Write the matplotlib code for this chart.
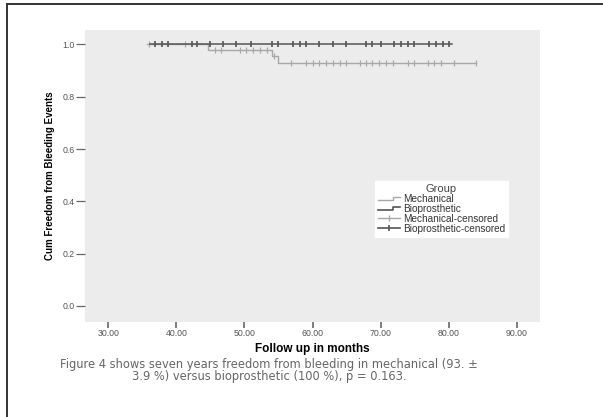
import numpy as np
import matplotlib
matplotlib.use("Agg")
import matplotlib.pyplot as plt
from matplotlib.lines import Line2D
from matplotlib.legend_handler import HandlerBase

# ---- data ----
mech_times = [35.7, 44.6, 54.0, 54.9, 84.0]
mech_surv = [1.0, 0.98, 0.955, 0.93, 0.93]
bio_times = [36.1, 80.5]
bio_surv = [1.0, 1.0]

mech_censored = [36.0, 41.3, 45.7, 46.6, 49.3, 50.3, 51.3, 52.3, 53.3, 54.3,
                 56.9, 59.1, 60.1, 61.0, 62.0, 63.0, 64.0, 64.9, 66.9, 67.9,
                 68.8, 69.8, 70.8, 71.8, 74.0, 74.9, 76.9, 77.9, 78.9, 80.8, 84.0]
bio_censored = [36.9, 37.9, 38.8, 42.3, 43.0, 44.9, 46.9, 48.8, 51.0, 54.0,
                54.9, 57.1, 58.1, 59.1, 61.0, 63.0, 64.9, 67.9, 68.8, 70.1,
                72.0, 73.0, 74.0, 74.9, 77.1, 78.1, 79.1, 80.1]

x_ticks = [30, 40, 50, 60, 70, 80, 90]
x_ticklabels = ["30.00", "40.00", "50.00", "60.00", "70.00", "80.00", "90.00"]
y_ticks = [0.0, 0.2, 0.4, 0.6, 0.8, 1.0]
y_ticklabels = ["0.0", "0.2", "0.4", "0.6", "0.8", "1.0"]

group_labels = ["Mechanical", "Bioprosthetic", "Mechanical-censored", "Bioprosthetic-censored"]
caption = ("Figure 4 shows seven years freedom from bleeding in mechanical (93. \u00b1\n"
           "3.9 %) versus bioprosthetic (100 %), p = 0.163.")

MECH_C = "#a8a8a8"
BIO_C = "#555555"


def surv_at(times, surv, t):
    idx = np.searchsorted(np.asarray(times), t, side="right") - 1
    idx = np.clip(idx, 0, len(surv) - 1)
    return np.asarray(surv)[idx]


plt.rcParams["font.family"] = ["Liberation Sans", "DejaVu Sans"]

fig = plt.figure(figsize=(6.03, 4.17), dpi=100)
ax = fig.add_axes([0.141, 0.228, 0.7546, 0.700])
ax.set_facecolor("#ececec")
for s in ax.spines.values():
    s.set_visible(False)

ax.set_xlim(26.6, 93.4)
ax.set_ylim(-0.061, 1.055)

# curves
ax.step(mech_times, mech_surv, where="post", color=MECH_C, lw=1.0, zorder=2)
ax.step(bio_times, bio_surv, where="post", color=BIO_C, lw=1.1, zorder=3)
ax.plot(mech_censored, surv_at(mech_times, mech_surv, mech_censored), ls="none",
        marker="|", ms=4.5, mew=0.9, color=MECH_C, zorder=2)
ax.plot(bio_censored, surv_at(bio_times, bio_surv, bio_censored), ls="none",
        marker="|", ms=4.5, mew=1.2, color=BIO_C, zorder=4)

ax.set_xticks(x_ticks)
ax.set_xticklabels(x_ticklabels)
ax.set_yticks(y_ticks)
ax.set_yticklabels(y_ticklabels)
ax.tick_params(axis="x", direction="out", length=4, width=1.2, color="#666666",
               labelsize=6.3, labelcolor="#555555", pad=1)
ax.tick_params(axis="y", direction="out", length=6.5, width=0.9, color="#666666",
               labelsize=6.3, labelcolor="#555555", pad=1)

ax.set_xlabel("Follow up in months", fontsize=8.5, fontweight="bold", labelpad=4)
ax.set_ylabel("Cum Freedom from Bleeding Events", fontsize=7, fontweight="bold",
              labelpad=5)


class StepHandler(HandlerBase):
    def __init__(self, color, lw):
        super().__init__()
        self.color = color
        self.lw = lw

    def create_artists(self, legend, orig_handle, xdescent, ydescent, width,
                       height, fontsize, trans):
        x0, x1 = -xdescent, -xdescent + width
        ylo = -ydescent + height * 0.3
        yhi = -ydescent + height * 0.7
        xm = x0 + 0.7 * width
        ln = Line2D([x0, xm, xm, x1], [ylo, ylo, yhi, yhi], color=self.color,
                    lw=self.lw, transform=trans)
        return [ln]


class CensorHandler(HandlerBase):
    def __init__(self, color, lw):
        super().__init__()
        self.color = color
        self.lw = lw

    def create_artists(self, legend, orig_handle, xdescent, ydescent, width,
                       height, fontsize, trans):
        x0, x1 = -xdescent, -xdescent + width
        ym = -ydescent + height * 0.5
        ln = Line2D([x0, x1], [ym, ym], color=self.color, lw=self.lw, transform=trans)
        mk = Line2D([(x0 + x1) / 2], [ym], color=self.color, marker="|", ms=5,
                    mew=self.lw, ls="none", transform=trans)
        return [ln, mk]


h1 = Line2D([], [], color=MECH_C)
h2 = Line2D([], [], color=BIO_C)
h3 = Line2D([], [], color=MECH_C, marker="|")
h4 = Line2D([], [], color=BIO_C, marker="|")
leg = ax.legend([h1, h2, h3, h4], group_labels,
                handler_map={h1: StepHandler(MECH_C, 1.0), h2: StepHandler(BIO_C, 1.2),
                             h3: CensorHandler(MECH_C, 1.0), h4: CensorHandler(BIO_C, 1.2)},
                title="Group", fontsize=7.2, title_fontsize=8,
                loc="upper left", bbox_to_anchor=(0.637, 0.483),
                frameon=True, fancybox=False, edgecolor="white", facecolor="white",
                framealpha=1.0, handlelength=2.2, handletextpad=0.3,
                labelspacing=0.0, borderpad=0.3, borderaxespad=0)
for t in leg.get_texts():
    t.set_color("#333333")
leg.get_title().set_color("#444444")

# caption
fig.text(0.446, 0.112, caption, ha="center", va="center", fontsize=8.3,
         color="#666666", family=["DejaVu Sans"], linespacing=0.85)

# frame lines
fig.add_artist(Line2D([0.0116, 0.0116], [0.0, 0.99], transform=fig.transFigure,
                      color="#333333", lw=1.4))
fig.add_artist(Line2D([0.0116, 1.0], [0.99, 0.99], transform=fig.transFigure,
                      color="#333333", lw=1.4))

fig.savefig("out.png", dpi=100)
